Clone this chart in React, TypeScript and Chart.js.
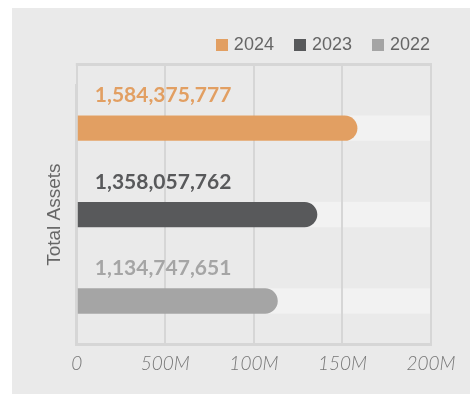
import React, { useEffect, useRef } from 'react';
import { Chart, registerables } from 'chart.js';

Chart.register(...registerables);

const categories = ['Total Assets'];
const seriesNames = ['2024', '2023', '2022'];
const values2024 = [1584375777];
const values2023 = [1358057762];
const values2022 = [1134747651];
const seriesColors = ['#E29F62', '#58595B', '#A5A5A5'];
const xTickLabels = ['0', '500M', '100M', '150M', '200M'];
const axisMin = 0;
const axisMax = 2000000000;
const axisStep = 500000000;

const gridColor = '#d6d6d6';
const trackColor = '#f2f2f2';
const panelColor = '#eaeaea';

function makeIcon(color: string) {
  const c = document.createElement('canvas');
  c.width = 12;
  c.height = 12;
  const g = c.getContext('2d')!;
  g.fillStyle = color;
  g.fillRect(0, 0, 12, 12);
  return c;
}

const trackPlugin = {
  id: 'tracksAndFrame',
  beforeDraw(chart: any) {
    const { ctx, chartArea } = chart;
    ctx.save();
    ctx.fillStyle = trackColor;
    chart.data.datasets.forEach((_ds: any, i: number) => {
      const meta = chart.getDatasetMeta(i);
      meta.data.forEach((bar: any) => {
        const top = bar.y - bar.height / 2;
        ctx.fillRect(chartArea.left, top, chartArea.right - chartArea.left, bar.height);
      });
    });
    const x2 = chart.scales.x2;
    ctx.fillStyle = gridColor;
    ctx.fillRect(chartArea.left - 1, x2.top - 1, chartArea.right - chartArea.left + 2, 3);
    ctx.restore();
  },
};

const valueLabelPlugin = {
  id: 'valueLabels',
  afterDatasetsDraw(chart: any) {
    const { ctx, chartArea } = chart;
    ctx.save();
    ctx.font = 'bold 21px Lato';
    ctx.textBaseline = 'middle';
    ctx.textAlign = 'left';
    chart.data.datasets.forEach((ds: any, i: number) => {
      chart.getDatasetMeta(i).data.forEach((bar: any, j: number) => {
        ctx.fillStyle = ds.backgroundColor;
        ctx.fillText(
          Number(ds.data[j]).toLocaleString('en-US'),
          chartArea.left + 18,
          bar.y - bar.height / 2 - 20
        );
      });
    });
    ctx.restore();
  },
};

export default function App() {
  const ref = useRef<HTMLCanvasElement | null>(null);

  useEffect(() => {
    if (!ref.current) return;
    const seriesValues = [values2024, values2023, values2022];
    const chart = new Chart(ref.current, {
      type: 'bar',
      data: {
        labels: categories,
        datasets: seriesNames.map((name, i) => ({
          label: name,
          data: seriesValues[i],
          backgroundColor: seriesColors[i],
          borderWidth: 0,
          borderRadius: 13,
          pointStyle: makeIcon(seriesColors[i]) as any,
          categoryPercentage: 1,
          barPercentage: 0.293,
        })),
      },
      options: {
        indexAxis: 'y',
        animation: false,
        responsive: false,
        layout: { padding: { top: 5, left: 31, right: 17, bottom: 11 } },
        plugins: {
          legend: {
            position: 'top',
            align: 'end',
            labels: {
              usePointStyle: true,
              pointStyleWidth: 6,
              boxHeight: 12,
              padding: 23,
              color: '#666666',
              font: { family: 'Liberation Sans', size: 18 },
            },
          },
          tooltip: { enabled: false },
        },
        scales: {
          x: {
            type: 'linear',
            position: 'bottom',
            min: axisMin,
            max: axisMax,
            ticks: {
              stepSize: axisStep,
              callback: (_v: any, i: number) => xTickLabels[i],
              color: '#777777',
              padding: 8,
              font: { family: 'Lato', style: 'italic', weight: 300, size: 19 },
            },
            grid: { color: gridColor, lineWidth: 2, drawTicks: false },
            border: { color: gridColor, width: 3 },
            afterFit: (s: any) => {
              s.paddingRight = 39;
            },
          },
          x2: {
            type: 'linear',
            position: 'top',
            min: axisMin,
            max: axisMax,
            ticks: { display: false, stepSize: axisStep },
            grid: { color: gridColor, lineWidth: 2, drawOnChartArea: false, drawTicks: true, tickLength: 21 },
            border: { display: false },
          },
          y: {
            type: 'category',
            ticks: { display: false },
            grid: { display: false, drawTicks: false },
            border: { color: gridColor, width: 3 },
            title: {
              display: true,
              text: 'Total Assets',
              color: '#666666',
              font: { family: 'Liberation Sans', size: 19 },
              padding: { top: 0, bottom: 11 },
            },
          },
        },
      } as any,
      plugins: [trackPlugin, valueLabelPlugin],
    });
    return () => chart.destroy();
  }, []);

  return (
    <div
      style={{
        position: 'fixed',
        left: 12,
        top: 8,
        width: 458,
        height: 386,
        background: panelColor,
      }}
    >
      <canvas ref={ref} width={458} height={386} style={{ display: 'block' }} />
    </div>
  );
}
